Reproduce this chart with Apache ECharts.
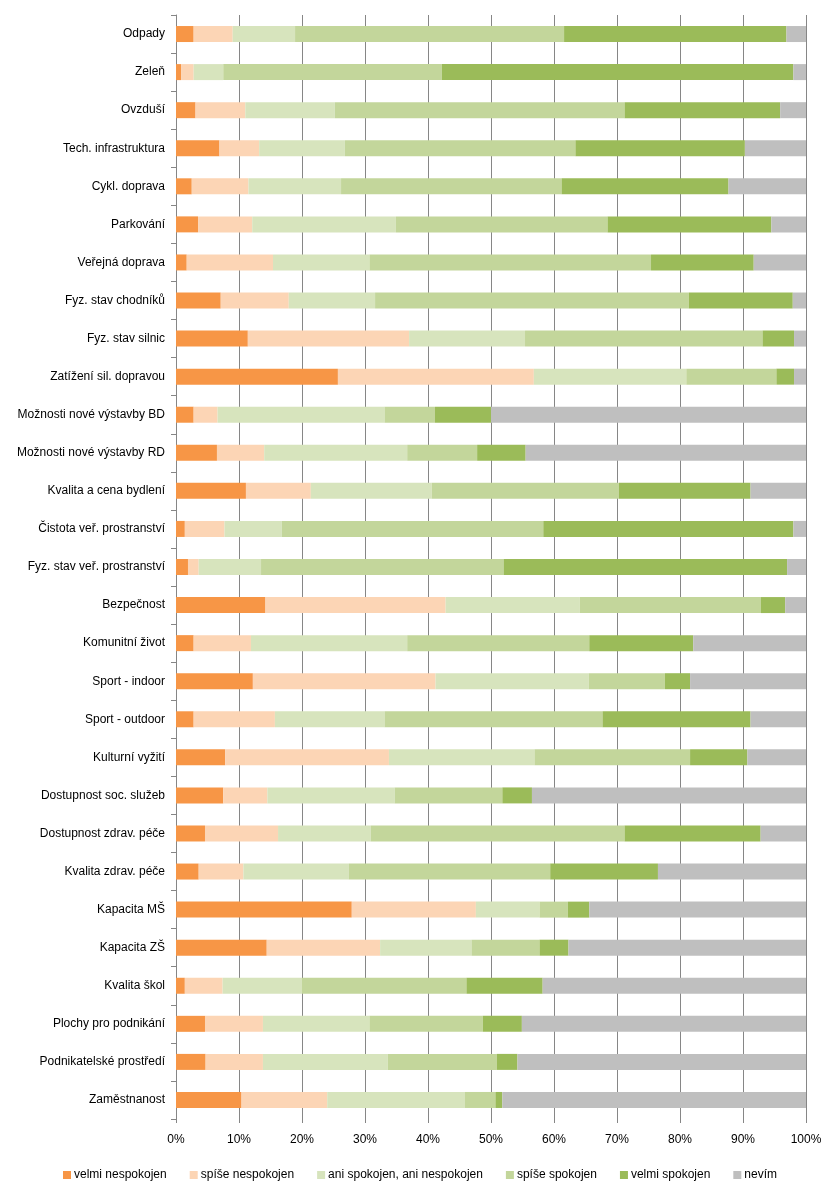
<!DOCTYPE html>
<html>
<head>
<meta charset="utf-8">
<script src="https://cdn.jsdelivr.net/npm/echarts@6/dist/echarts.min.js"></script>
<style>
html,body{margin:0;padding:0;background:#fff;}
#chart{width:837px;height:1195px;}
</style>
</head>
<body>
<div id="chart"></div>
<script>
const categories = ["Odpady","Zeleň","Ovzduší","Tech. infrastruktura","Cykl. doprava","Parkování","Veřejná doprava","Fyz. stav chodníků","Fyz. stav silnic","Zatížení sil. dopravou","Možnosti nové výstavby BD","Možnosti nové výstavby RD","Kvalita a cena bydlení","Čistota veř. prostranství","Fyz. stav veř. prostranství","Bezpečnost","Komunitní život","Sport - indoor","Sport - outdoor","Kulturní vyžití","Dostupnost soc. služeb","Dostupnost zdrav. péče","Kvalita zdrav. péče","Kapacita MŠ","Kapacita ZŠ","Kvalita škol","Plochy pro podnikání","Podnikatelské prostředí","Zaměstnanost"];

const seriesNames = ["velmi nespokojen","spíše nespokojen","ani spokojen, ani nespokojen","spíše spokojen","velmi spokojen","nevím"];

const velmiNespokojen = [2.8,0.8,3.1,6.9,2.5,3.5,1.7,7.1,11.4,25.7,2.8,6.5,11.1,1.4,1.9,14.2,2.8,12.2,2.8,7.8,7.5,4.6,3.6,27.9,14.4,1.4,4.6,4.7,10.4];
const spiseNespokojen = [6.2,2.0,7.9,6.3,9.0,8.6,13.7,10.8,25.6,31.1,3.8,7.5,10.3,6.3,1.7,28.6,9.1,29.0,12.9,26.0,7.0,11.6,7.1,19.7,18.0,6.0,9.2,9.1,13.6];
const aniAni = [9.9,4.7,14.2,13.6,14.7,22.8,15.3,13.7,18.4,24.2,26.5,22.7,19.2,9.1,9.9,21.3,24.8,24.3,17.4,23.1,20.2,14.7,16.7,10.1,14.5,12.6,16.9,19.8,21.8];
const spiseSpokojen = [42.7,34.7,46.0,36.6,35.0,33.6,44.7,49.8,37.7,14.3,8.0,11.1,29.7,41.5,38.5,28.7,28.9,12.1,34.6,24.7,17.1,40.3,32.0,4.5,10.8,26.1,18.0,17.3,4.9];
const velmiSpokojen = [35.3,55.8,24.7,26.9,26.5,26.0,16.3,16.5,5.0,2.8,8.9,7.7,20.9,39.7,45.0,3.9,16.5,4.0,23.5,9.1,4.7,21.6,17.1,3.4,4.6,12.1,6.2,3.3,1.1];
const nevim = [3.1,2.0,4.1,9.7,12.3,5.5,8.3,2.1,1.9,1.9,50.0,44.5,8.8,2.0,3.0,3.3,17.9,18.4,8.8,9.3,43.5,7.2,23.5,34.4,37.7,41.8,45.1,45.8,48.2];

const xTicks = [0,10,20,30,40,50,60,70,80,90,100];

const colors = ["#F79646","#FCD5B5","#D7E4BD","#C3D69B","#9BBB59","#BFBFBF"];
const allData = [velmiNespokojen,spiseNespokojen,aniAni,spiseSpokojen,velmiSpokojen,nevim];

const FONT = "'Liberation Sans', Arial, sans-serif";

const chart = echarts.init(document.getElementById('chart'), null, {renderer:'canvas'});
chart.setOption({
  animation:false,
  backgroundColor:'#ffffff',
  textStyle:{fontFamily:FONT},
  grid:{left:176,right:31,top:15,bottom:76,containLabel:false},
  legend:{
    data:seriesNames,
    bottom:9,
    left:58,
    itemWidth:8,itemHeight:8,itemGap:23,
    icon:'rect',
    textStyle:{fontFamily:FONT,fontSize:12,color:'#000',padding:[0,0,0,-2]}
  },
  xAxis:{
    type:'value',min:xTicks[0],max:xTicks[xTicks.length-1],interval:10,
    axisLine:{show:false},
    axisTick:{show:true,length:4,lineStyle:{color:'#868686'}},
    splitLine:{show:true,lineStyle:{color:'#868686',width:1}},
    axisLabel:{formatter:'{value}%',fontFamily:FONT,fontSize:12,color:'#000',margin:15}
  },
  yAxis:{
    type:'category',data:categories,inverse:true,
    axisLine:{show:true,lineStyle:{color:'#868686'}},
    axisTick:{show:true,length:5,alignWithLabel:false,lineStyle:{color:'#868686'}},
    axisLabel:{fontFamily:FONT,fontSize:12,color:'#000',margin:11}
  },
  series:seriesNames.map((n,i)=>({
    name:n,type:'bar',stack:'total',barWidth:16,
    itemStyle:{color:colors[i]},
    data:allData[i]
  }))
});
</script>
</body>
</html>
